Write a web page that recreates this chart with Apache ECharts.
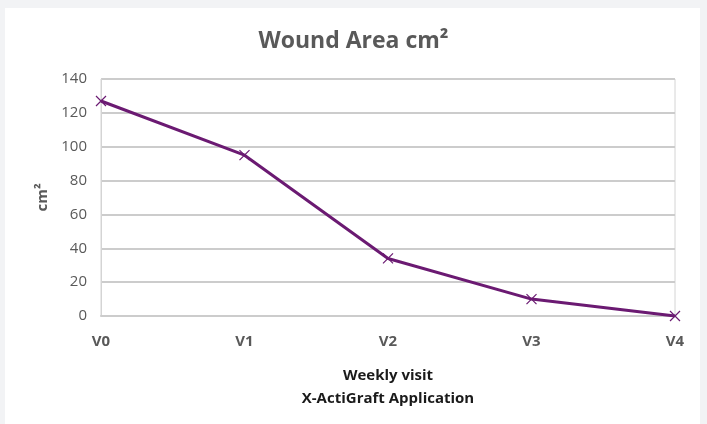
<!DOCTYPE html>
<html><head><meta charset="utf-8">
<script src="https://cdn.jsdelivr.net/npm/echarts@6/dist/echarts.min.js"></script>
<style>html,body{margin:0;padding:0;background:#f2f3f5;}#wrap{position:absolute;left:5px;top:8px;width:695px;height:416px;background:#fff;}#c{position:absolute;left:0;top:0;width:707px;height:424px;}</style>
</head><body><div id="wrap"></div><div id="c"></div>
<script>
const categories = ['V0','V1','V2','V3','V4'];
const woundArea = [127, 95, 34, 10, 0];
const yTicks = [0, 20, 40, 60, 80, 100, 120, 140];

const font = '"Open Sans", sans-serif';
const chart = echarts.init(document.getElementById('c'));
chart.setOption({
  backgroundColor: 'transparent',
  animation: false,
  title: {
    text: 'Wound Area cm²',
    left: 'center', top: 25,
    textStyle: {fontFamily: font, fontSize: 23, fontWeight: 'bold', color: '#595959'}
  },
  grid: {left: 101, right: 32, top: 79, bottom: 108, show: true, borderColor: '#d4d4d4', borderWidth: 1, backgroundColor: 'transparent'},
  xAxis: {
    type: 'category', data: categories, boundaryGap: false,
    axisLine: {show: true, lineStyle: {color: '#cccccc', width: 2}},
    axisTick: {show: false},
    axisLabel: {fontFamily: font, fontSize: 15, fontWeight: 'bold', color: '#595959', margin: 18},
    splitLine: {show: false},
    name: 'Weekly visit\nX-ActiGraft Application',
    nameLocation: 'middle', nameGap: 48,
    nameTextStyle: {fontFamily: font, fontSize: 15, fontWeight: 'bold', color: '#1a1a1a', lineHeight: 23}
  },
  yAxis: {
    type: 'value', min: yTicks[0], max: yTicks[yTicks.length-1], interval: 20,
    axisLine: {show: true, lineStyle: {color: '#d4d4d4', width: 1}},
    axisTick: {show: false},
    axisLabel: {fontFamily: font, fontSize: 15, color: '#595959', margin: 14},
    splitLine: {lineStyle: {color: '#cccccc', width: 2}},
    name: 'cm²', nameLocation: 'middle', nameRotate: 90, nameGap: 50,
    nameTextStyle: {fontFamily: font, fontSize: 15, fontWeight: 'bold', color: '#595959'}
  },
  series: [{
    type: 'line', data: woundArea,
    symbol: 'path://M0,0L10,10M10,0L0,10', symbolSize: 10,
    showAllSymbol: true,
    lineStyle: {color: '#6b1a72', width: 3},
    itemStyle: {color: 'none', borderColor: '#6b1a72', borderWidth: 1.2}
  }]
});
</script>
</body></html>
